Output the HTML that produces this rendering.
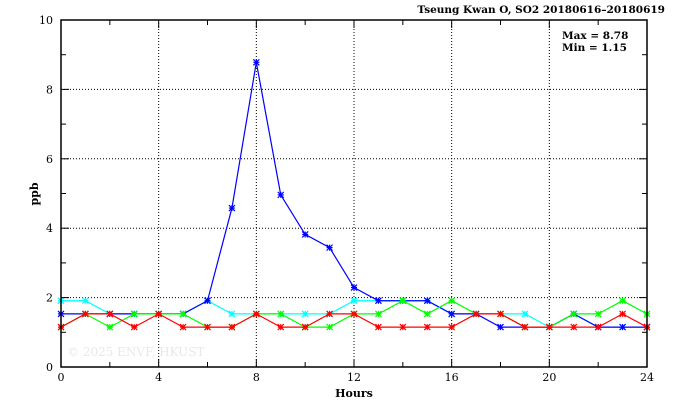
<!DOCTYPE html>
<html><head><meta charset="utf-8"><style>
body{margin:0;background:#fff}
text{font-family:"DejaVu Serif","Liberation Serif",serif;font-size:11px;fill:#000}
</style></head><body>
<svg id="s" width="674" height="409" xmlns="http://www.w3.org/2000/svg">
<rect width="674" height="409" fill="#fff"/>
<g id="grid" stroke="#000" stroke-width="1" stroke-dasharray="1,2" fill="none"></g>
<text x="67" y="356" style="fill:#e8e8e8;font-size:12px">© 2025  ENVF, HKUST</text>
<g id="series"></g>
<rect x="61" y="20" width="586" height="347" fill="none" stroke="#000" stroke-width="1.5"/>
<g id="ticks" stroke="#000" stroke-width="1"></g>
<g id="labels"></g>
<text x="665" y="13" text-anchor="end" style="font-weight:bold;font-size:10.5px">Tseung Kwan O, SO2 20180616–20180619</text>
<text x="562" y="39" style="font-weight:bold;font-size:10.5px">Max = 8.78</text>
<text x="562" y="51" style="font-weight:bold;font-size:10.5px">Min = 1.15</text>
<text x="354" y="397" text-anchor="middle" style="font-weight:bold">Hours</text>
<text x="38" y="194" text-anchor="middle" transform="rotate(-90 38 194)" style="font-weight:bold">ppb</text>
</svg>
<script>
const ns="http://www.w3.org/2000/svg";
const X=h=>61+h*586/24, Y=v=>367-v*34.7;
function el(p,t,a,txt){const e=document.createElementNS(ns,t);for(const k in a)e.setAttribute(k,a[k]);if(txt!==undefined)e.textContent=txt;document.getElementById(p).appendChild(e);}
for(let h=4;h<24;h+=4)el("grid","line",{x1:X(h),x2:X(h),y1:20,y2:367});
for(let v=2;v<10;v+=2)el("grid","line",{x1:61,x2:647,y1:Y(v),y2:Y(v)});
for(let h=0;h<=24;h+=2){const L=h%4==0?8:5;el("ticks","line",{x1:X(h),x2:X(h),y1:367,y2:367-L});el("ticks","line",{x1:X(h),x2:X(h),y1:20,y2:20+L});}
for(let v=0;v<=10;v+=1){const L=v%2==0?8:5;el("ticks","line",{x1:61,x2:61+L,y1:Y(v),y2:Y(v)});el("ticks","line",{x1:647,x2:647-L,y1:Y(v),y2:Y(v)});}
for(let h=0;h<=24;h+=4)el("labels","text",{x:X(h),y:381,"text-anchor":"middle"},h);
for(let v=0;v<=10;v+=2)el("labels","text",{x:53,y:Y(v)+4,"text-anchor":"end"},v);
const a=1.15,b=1.53,c=1.91;
const S={
"#00ffff":[c,c,b,b,b,b,c,b,b,b,b,b,c,c,c,c,b,b,b,b,a,b,a,a,a],
"#0000ff":[b,b,b,b,b,b,c,4.58,8.78,4.96,3.82,3.44,2.29,c,c,c,b,b,a,a,a,b,a,a,a],
"#00ff00":[a,b,a,b,b,b,a,a,b,b,a,a,b,b,c,b,c,b,b,a,a,b,b,c,b],
"#ff0000":[a,b,b,a,b,a,a,a,b,a,a,b,b,a,a,a,a,b,b,a,a,a,a,b,a]};
for(const col in S){const d=S[col];
el("series","polyline",{points:d.map((v,i)=>X(i)+","+Y(v)).join(" "),fill:"none",stroke:col,"stroke-width":1.2});
d.forEach((v,i)=>{const x=X(i),y=Y(v),r=3;
el("series","path",{d:`M${x-r},${y-r}L${x+r},${y+r}M${x-r},${y+r}L${x+r},${y-r}M${x},${y-r}L${x},${y+r}M${x-r},${y}L${x+r},${y}`,stroke:col,"stroke-width":1.2});});}
</script>
</body></html>
